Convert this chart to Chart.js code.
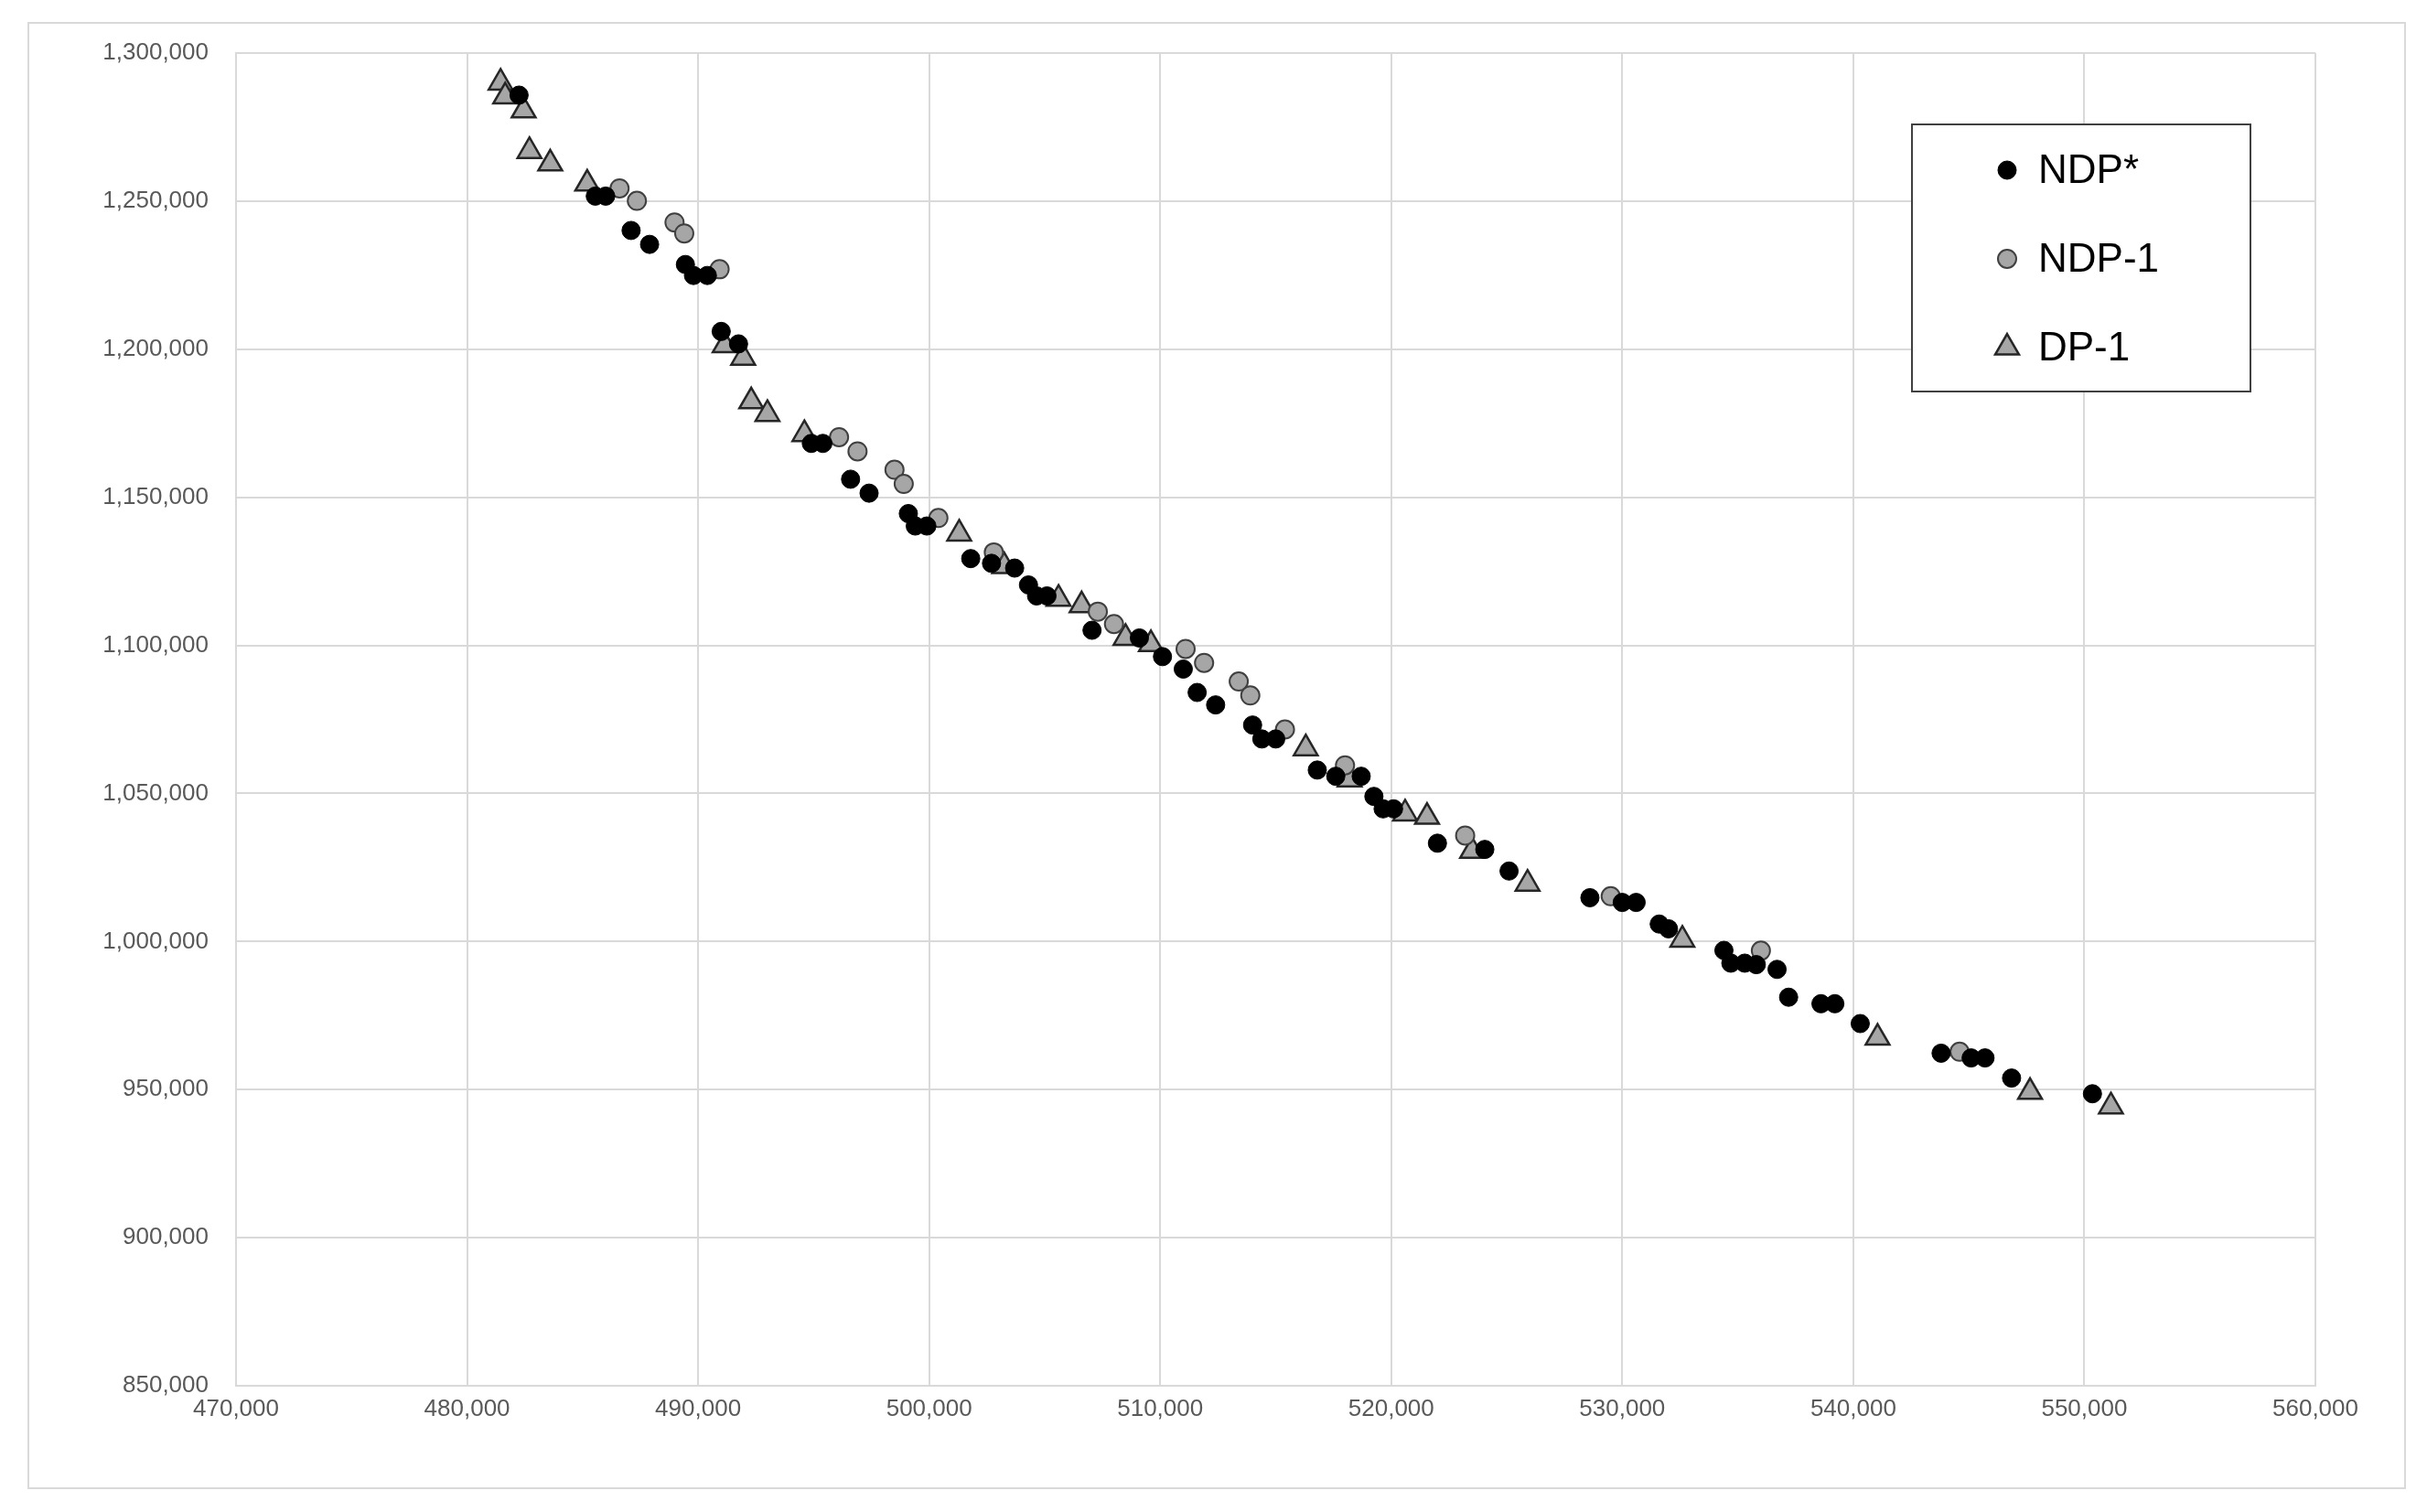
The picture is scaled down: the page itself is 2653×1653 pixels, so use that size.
<!DOCTYPE html>
<html>
<head>
<meta charset="utf-8">
<script src="https://cdn.jsdelivr.net/npm/chart.js@4.4.0/dist/chart.umd.min.js"></script>
<style>
  html, body { margin: 0; padding: 0; background: #fff; }
  #wrap { position: relative; width: 2653px; height: 1653px; }
  #frame { position: absolute; left: 30px; top: 24px; width: 2600px; height: 1604px; border: 2px solid #d9d9d9; box-sizing: border-box; }
</style>
</head>
<body>
<div id="wrap">
  <div id="frame"></div>
  <canvas id="chart" width="2653" height="1653"></canvas>
</div>
<script>
// serie NDP* (punti neri)
var ndpStarX = [482250,485550,486000,487100,487900,489450,489800,490400,491000,491750,494900,495400,496600,497400,499100,499400,499900,501800,502700,503700,504300,504650,505100,507050,509100,510100,511000,511600,512400,514000,514400,515000,516800,517600,518700,519250,519650,520100,522000,524050,525100,528600,530000,530600,531600,532000,534400,534700,535300,535800,536700,537200,538600,539200,540300,543800,545100,545700,546850,550350];
var ndpStarY = [1285800,1251700,1251700,1240100,1235400,1228600,1224900,1224900,1206000,1201800,1168200,1168200,1156100,1151400,1144500,1140300,1140300,1129300,1127700,1126100,1120400,1116700,1116700,1105100,1102500,1096200,1092000,1084100,1079900,1073100,1068400,1068400,1057900,1055800,1055800,1049000,1044800,1044800,1033200,1031100,1023800,1014800,1013200,1013200,1005900,1004300,997000,992700,992700,992200,990600,981200,979000,979000,972300,962300,960700,960700,953900,948600];

// serie NDP-1 (cerchi grigi)
var ndp1X = [486600,487350,488980,489400,490930,496100,496900,498500,498900,500400,502800,507300,508000,511100,511900,513400,513900,515400,518000,523200,529500,536000,544600];
var ndp1Y = [1254300,1250100,1242800,1239100,1227000,1170300,1165500,1159300,1154500,1143000,1131400,1111400,1107200,1098800,1094100,1087800,1083100,1071600,1059500,1035800,1015300,996900,962800];

// serie DP-1 (triangoli)
var dp1X = [481450,481650,482450,482700,483600,485200,491150,491950,492300,493000,494600,501300,503250,505600,506600,508500,509600,516300,518200,520600,521550,523500,525900,532600,541050,547650,551150];
var dp1Y = [1290000,1285300,1280600,1266900,1262700,1255900,1201300,1197100,1182400,1178100,1171300,1137700,1126700,1115700,1113500,1102500,1100400,1065200,1054700,1043200,1042100,1030600,1019500,1000600,967500,949200,944300];

var seriesNames = ['NDP*', 'NDP-1', 'DP-1'];

//unisco x e y in punti
function toPoints(xs, ys){
  return xs.map(function(x, i){ return {x: x, y: ys[i]}; });
}

var styles = [
  {pointStyle: 'circle', radius: 10, bg: '#000000', border: '#000000', bw: 1},
  {pointStyle: 'circle', radius: 10, bg: '#a6a6a6', border: '#404040', bw: 2},
  {pointStyle: 'triangle', radius: 15, bg: '#a6a6a6', border: '#262626', bw: 2.5}
];

//legenda disegnata dentro l'area del grafico
var boxLegend = {
  id: 'boxLegend',
  afterDraw: function(chart){
    var ctx = chart.ctx;
    var x0 = 2090, y0 = 136, w = 370, h = 292;
    ctx.save();
    ctx.fillStyle = '#fff';
    ctx.fillRect(x0, y0, w, h);
    ctx.strokeStyle = '#404040';
    ctx.lineWidth = 2;
    ctx.strokeRect(x0, y0, w, h);
    ctx.font = '44px "Liberation Sans", Arial, sans-serif';
    ctx.fillStyle = '#000';
    ctx.textBaseline = 'middle';
    for (var i = 0; i < seriesNames.length; i++) {
      var cy = y0 + 50 + i * 97;
      var s = styles[i];
      ctx.fillStyle = s.bg;
      ctx.strokeStyle = s.border;
      ctx.lineWidth = s.bw;
      Chart.helpers.drawPoint(ctx, {pointStyle: s.pointStyle, radius: s.radius, rotation: 0, borderWidth: s.bw}, x0 + 104, cy);
      ctx.fillStyle = '#000';
      ctx.fillText(seriesNames[i], x0 + 138, cy + 2);
    }
    ctx.restore();
  }
};

var allX = [ndpStarX, ndp1X, dp1X];
var allY = [ndpStarY, ndp1Y, dp1Y];

var chart = new Chart(document.getElementById('chart'), {
  type: 'scatter',
  data: {
    datasets: seriesNames.map(function(name, i){
      return {
        label: name,
        data: toPoints(allX[i], allY[i]),
        pointStyle: styles[i].pointStyle,
        pointRadius: styles[i].radius,
        pointBackgroundColor: styles[i].bg,
        pointBorderColor: styles[i].border,
        pointBorderWidth: styles[i].bw
      };
    })
  },
  options: {
    responsive: false,
    animation: false,
    layout: { padding: { top: 58, right: 122, left: 0, bottom: 0 } },
    plugins: { legend: { display: false }, tooltip: { enabled: false } },
    scales: {
      x: {
        type: 'linear',
        min: 470000, max: 560000,
        afterFit: function(scale){ scale.height = 138; },
        ticks: {
          stepSize: 10000,
          color: '#595959',
          font: { size: 26, family: '"Liberation Sans", Arial, sans-serif' },
          maxRotation: 0,
          padding: 10,
          callback: function(v){ return v.toLocaleString('en-US'); }
        },
        grid: { color: '#d9d9d9', lineWidth: 2, drawTicks: false },
        border: { color: '#d9d9d9', width: 2 }
      },
      y: {
        min: 850000, max: 1300000,
        afterFit: function(scale){ scale.width = 258; },
        ticks: {
          stepSize: 50000,
          color: '#595959',
          font: { size: 26, family: '"Liberation Sans", Arial, sans-serif' },
          padding: 30,
          callback: function(v){ return v.toLocaleString('en-US'); }
        },
        grid: { color: '#d9d9d9', lineWidth: 2, drawTicks: false },
        border: { color: '#d9d9d9', width: 2 }
      }
    }
  },
  plugins: [boxLegend]
});
</script>
</body>
</html>
